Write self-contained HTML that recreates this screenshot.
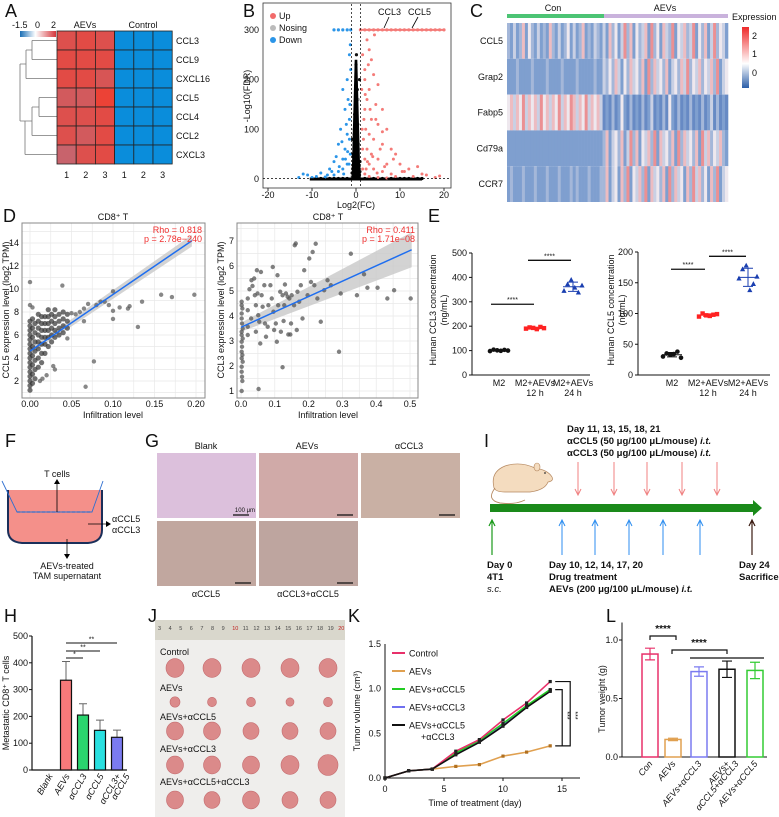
<!DOCTYPE html>
<html><head><meta charset="utf-8">
<style>
body{margin:0;background:#fff}
svg{display:block;font-family:"Liberation Sans",Arial,sans-serif;fill:#111}
.pl{font-size:18px}
.t{font-size:9px}
.s{font-size:8px}
.n{font-family:"Liberation Sans Narrow","Liberation Sans",sans-serif}
</style></head><body>
<svg id="fig" width="779" height="817" viewBox="0 0 779 817" xmlns="http://www.w3.org/2000/svg">
<rect x="0" y="0" width="779" height="817" fill="#fff"/>
<!-- Panel labels -->
<text class="pl" x="5" y="17">A</text>
<text class="pl" x="243" y="17">B</text>
<text class="pl" x="470" y="17">C</text>
<text class="pl" x="3" y="222">D</text>
<text class="pl" x="428" y="222">E</text>
<text class="pl" x="5" y="447">F</text>
<text class="pl" x="145" y="447">G</text>
<text class="pl" x="484" y="447">I</text>
<text class="pl" x="4" y="622">H</text>
<text class="pl" x="148" y="622">J</text>
<text class="pl" x="348" y="622">K</text>
<text class="pl" x="606" y="622">L</text>

<!-- A -->
<g id="pA">
<defs>
<linearGradient id="gA" x1="0" x2="1"><stop offset="0" stop-color="#1a6eb5"/><stop offset="0.43" stop-color="#ffffff"/><stop offset="1" stop-color="#d4363c"/></linearGradient>
<linearGradient id="gC" x1="0" y1="1" x2="0" y2="0"><stop offset="0" stop-color="#2b5ea8"/><stop offset="0.4" stop-color="#ffffff"/><stop offset="1" stop-color="#ee2a2a"/></linearGradient>
</defs>
<rect x="20" y="31" width="36" height="6" fill="url(#gA)"/>
<text class="t" x="12" y="28">-1.5</text>
<text class="t" x="35" y="28">0</text>
<text class="t" x="51" y="28">2</text>
<text class="t" x="85" y="28" text-anchor="middle">AEVs</text>
<text class="t" x="143" y="28" text-anchor="middle">Control</text>
<path d="M32,40.5H57M32,59.5H57M32,40.5V59.5M26,50H32M26,78.5H57M26,50V78.5M20,64H26M39,97.5H57M39,116.5H57M39,97.5V116.5M32,107H39M32,135.5H57M32,107V135.5M25,121H32M25,154.5H57M25,121V154.5M20,121H25M20,64V121" stroke="#777" fill="none" stroke-width="0.8"/>
</g>

<!-- B -->
<g id="pB">
<rect x="263" y="3" width="188" height="185" fill="none" stroke="#333" stroke-width="0.8"/>
<text class="t" x="250" y="96" transform="rotate(-90 250 96)" text-anchor="middle">-Log10(FDR)</text>
<text class="t" x="356" y="208" text-anchor="middle">Log2(FC)</text>
<circle cx="273" cy="16" r="3" fill="#f26b6b"/>
<text class="t" x="279" y="19">Up</text>
<circle cx="273" cy="28" r="3" fill="#bbb"/>
<text class="t" x="279" y="31">Nosing</text>
<circle cx="273" cy="40" r="3" fill="#2b95e8"/>
<text class="t" x="279" y="43">Down</text>
<text class="t" x="378" y="15">CCL3</text>
<text class="t" x="408" y="15">CCL5</text>
<path d="M389,17L384,28M418,17L412,28" stroke="#000" stroke-width="0.8"/>
</g>

<!-- C -->
<g id="pC">
<text class="t" x="553" y="11" text-anchor="middle">Con</text>
<text class="t" x="665" y="11" text-anchor="middle">AEVs</text>
<rect x="507" y="14" width="97" height="4" fill="#4cc474"/>
<rect x="604" y="14" width="124" height="4" fill="#c9b2dc"/>
<text class="t" x="732" y="20">Expression</text>
<rect x="742" y="27" width="7" height="61" fill="url(#gC)"/>
<text class="t" x="752" y="39">2</text>
<text class="t" x="752" y="57">1</text>
<text class="t" x="752" y="76">0</text>
</g>

<!-- D -->
<g id="pD">
<text class="t" x="113" y="220" text-anchor="middle">CD8⁺ T</text>
<text class="t" x="328" y="220" text-anchor="middle">CD8⁺ T</text>
<text class="t" x="9" y="310" transform="rotate(-90 9 310)" text-anchor="middle">CCL5 expression level (log2 TPM)</text>
<text class="t" x="224" y="310" transform="rotate(-90 224 310)" text-anchor="middle">CCL3 expression level (log2 TPM)</text>
<text class="t" x="113" y="418" text-anchor="middle">Infiltration level</text>
<text class="t" x="328" y="418" text-anchor="middle">Infiltration level</text>
</g>

<!-- E -->
<g id="pE">
<text class="t" x="436" y="310" transform="rotate(-90 436 310)" text-anchor="middle">Human CCL3 concentration</text>
<text class="t" x="447" y="310" transform="rotate(-90 447 310)" text-anchor="middle">(ng/mL)</text>
<text class="t" x="614" y="310" transform="rotate(-90 614 310)" text-anchor="middle">Human CCL5 concentration</text>
<text class="t" x="625" y="310" transform="rotate(-90 625 310)" text-anchor="middle">(ng/mL)</text>
</g>

<!-- F -->
<g id="pF">
<path d="M8,490 L8,530 Q8,542 22,543 L88,543 Q102,542 102,530 L102,490 Z" fill="#f4908a"/>
<path d="M8,490 L8,530 Q8,542 22,543 L88,543 Q102,542 102,530 L102,490" fill="none" stroke="#1a2f5a" stroke-width="2"/>
<path d="M2,481 L17,512 L92,512 L103,481" fill="none" stroke="#2f6fd0" stroke-width="0.9"/>
<line x1="17" y1="512" x2="92" y2="512" stroke="#2f6fd0" stroke-width="1.2" stroke-dasharray="3,2"/>
<text class="t n" x="57" y="477" text-anchor="middle">T cells</text>
<path d="M57,512 V481" stroke="#000" stroke-width="0.8"/>
<path d="M54,484 L57,479 L60,484 Z" fill="#000"/>
<path d="M88,524 H108" stroke="#000" stroke-width="0.8"/>
<path d="M106,521 L111,524 L106,527 Z" fill="#000"/>
<text class="t n" x="112" y="522">αCCL5</text>
<text class="t n" x="112" y="533">αCCL3</text>
<path d="M67,539 V557" stroke="#000" stroke-width="0.8"/>
<path d="M64,554 L67,559 L70,554 Z" fill="#000"/>
<text class="t n" x="67" y="569" text-anchor="middle">AEVs-treated</text>
<text class="t n" x="67" y="579" text-anchor="middle">TAM supernatant</text>
</g>

<!-- G -->
<g id="pG">
<text class="t n" x="206" y="449" text-anchor="middle">Blank</text>
<text class="t n" x="307" y="449" text-anchor="middle">AEVs</text>
<text class="t n" x="409" y="449" text-anchor="middle">αCCL3</text>
<rect x="157" y="453" width="99" height="65" fill="#dcc0dc"/>
<rect x="259" y="453" width="99" height="65" fill="#d0aaa8"/>
<rect x="361" y="453" width="99" height="65" fill="#c9b0a4"/>
<rect x="157" y="521" width="99" height="65" fill="#c1a79f"/>
<rect x="259" y="521" width="99" height="65" fill="#bea59f"/>
<text x="245" y="512" font-size="6" text-anchor="middle">100 μm</text>
<path d="M233,515H249M337,515H353M439,515H455M235,583H251M337,583H353" stroke="#111" stroke-width="1.2"/>
<text class="t n" x="206" y="597" text-anchor="middle">αCCL5</text>
<text class="t n" x="308" y="597" text-anchor="middle">αCCL3+αCCL5</text>
</g>

<!-- I -->
<g id="pI" font-family="Liberation Sans Narrow, Liberation Sans, sans-serif">
<text x="567" y="432" font-size="9.5" font-weight="bold">Day 11, 13, 15, 18, 21</text>
<text x="567" y="444" font-size="9.5" font-weight="bold">αCCL5 (50 μg/100 μL/mouse) <tspan font-style="italic">i.t.</tspan></text>
<text x="567" y="456" font-size="9.5" font-weight="bold">αCCL3 (50 μg/100 μL/mouse) <tspan font-style="italic">i.t.</tspan></text>
<g>
<path d="M494,488 Q490,472 505,466 Q520,461 535,468 Q548,470 552,477 Q554,481 548,482 Q545,490 530,492 L505,492 Q496,492 494,488 Z" fill="#f4dcbf" stroke="#b58860" stroke-width="0.7"/>
<path d="M495,488 Q486,500 500,503 Q515,505 525,500" fill="none" stroke="#b58860" stroke-width="0.9"/>
<ellipse cx="537" cy="467" rx="3" ry="4" fill="#f4dcbf" stroke="#b58860" stroke-width="0.6"/>
<circle cx="545" cy="473" r="0.9" fill="#333"/>
</g>
<path d="M490,504 H753 V500 L762,508 L753,516 V512 H490 Z" fill="#1a8a1a"/>
<text x="487" y="568" font-size="9.5" font-weight="bold">Day 0</text>
<text x="487" y="580" font-size="9.5" font-weight="bold">4T1</text>
<text x="487" y="592" font-size="9.5" font-style="italic">s.c.</text>
<text x="549" y="568" font-size="9.5" font-weight="bold">Day 10, 12, 14, 17, 20</text>
<text x="549" y="580" font-size="9.5" font-weight="bold">Drug treatment</text>
<text x="549" y="592" font-size="9.5" font-weight="bold">AEVs (200 μg/100 μL/mouse) <tspan font-style="italic">i.t.</tspan></text>
<text x="739" y="568" font-size="9.5" font-weight="bold">Day 24</text>
<text x="739" y="580" font-size="9.5" font-weight="bold">Sacrifice</text>
</g>

<!-- H -->
<g id="pH">
<text class="t" x="9" y="703" transform="rotate(-90 9 703)" text-anchor="middle">Metastatic CD8⁺ T cells</text>
</g>

<!-- J -->
<g id="pJ">
<rect x="155" y="620" width="190" height="197" fill="#efeeec"/>
<rect x="155" y="620" width="190" height="20" fill="#d9d7cc"/>
<text class="t n" x="160" y="655">Control</text>
<text class="t n" x="160" y="691">AEVs</text>
<text class="t n" x="160" y="720">AEVs+αCCL5</text>
<text class="t n" x="160" y="752">AEVs+αCCL3</text>
<text class="t n" x="160" y="785">AEVs+αCCL5+αCCL3</text>
</g>

<!-- K -->
<g id="pK">
<text class="t" x="360" y="711" transform="rotate(-90 360 711)" text-anchor="middle">Tumor volume (cm³)</text>
<text class="t n" x="475" y="806" text-anchor="middle">Time of treatment (day)</text>
</g>

<!-- L -->
<g id="pL">
<text class="t" x="605" y="699" transform="rotate(-90 605 699)" text-anchor="middle">Tumor weight (g)</text>
</g>
</svg>

<script>
// ---------- DATA ----------
const genesA = ['CCL3','CCL9','CXCL16','CCL5','CCL4','CCL2','CXCL3'];
const aevsA = [[1.7,1.8,1.7],[1.8,1.8,1.8],[1.8,1.8,1.6],[1.5,1.5,2.0],[1.7,1.7,1.8],[1.7,1.5,1.8],[1.3,1.7,1.8]];
const ctrlA = [[-1.2,-1.2,-1.2],[-1.2,-1.2,-1.2],[-1.2,-1.2,-1.2],[-1.2,-1.2,-1.2],[-1.2,-1.2,-1.2],[-1.2,-1.2,-1.2],[-1.2,-1.2,-1.2]];

const upFC = [1.5,2,2.5,3,3.5,2,4,5,3,2.5,4.5,6,2,3.5,5,7,2.2,3,4,6,8,9,2.5,3.5,5,7,10,12,15,11,2,3,4,6,8,9,13,16,18,1.5,2,3,5,7,1.5,1.8,2.8,6,4.2,1.3,8.5,10.5,14,19,5.5,4.5,3.2,2.3,1.7,6.5,2.6,3.8,4.8,1.4,2.1];
const upFDR = [250,220,280,260,240,200,210,190,180,160,150,140,140,120,110,100,100,90,80,70,60,50,60,50,40,30,30,20,10,15,40,30,20,15,10,5,5,8,3,20,10,5,3,2,60,120,230,95,290,180,40,15,25,6,60,120,140,20,80,25,35,45,12,100,170];
const downFC = [-1.5,-2,-3,-1.8,-2.5,-1.5,-3.5,-2,-4,-2.5,-1.3,-3,-5,-6,-8,-9,-12,-11,-13,-2,-3,-4,-5,-7,-1.5,-2.2,-1.2,-3.2,-4.5,-10,-6.5,-1.6,-2.8,-1.4,-3.8,-5.5,-1.3,-2.4,-1.9];
const downFDR = [250,200,180,160,140,120,100,90,70,60,50,40,35,20,12,5,10,8,3,30,20,15,8,4,80,110,220,75,45,3,8,30,10,150,25,15,270,40,55];
const nsFC = [-0.9,-0.6,-0.3,0,0.3,0.6,0.9,-0.8,-0.4,0.2,0.5,0.8,-0.7,0.1,0.7,-0.5,0.4,-0.2,0.9,-0.9,0.6,-0.6,0.3,-0.3,0.8,-0.8,0.0,-10,-8,-6,-4,-3,-2,2,3,4,6,8,10,12,14,-9,-7,-5,5,7,9,11,13,15];
const nsFDR = [5,10,20,30,40,60,15,80,100,120,160,200,50,250,25,90,110,140,35,12,70,45,180,130,8,22,230,1,1,1,1,1,1,1,1,1,1,1,1,1,1,1,1,1,1,1,1,1,1,1];
const capUpFC = [1,2,3,4,5,6,7,8,9,10,11,12,13,14,15,16,17,18,19,20];
const capDownFC = [-5,-4,-3,-2,-1.2];

const geneC = ['CCL5','Grap2','Fabp5','Cd79a','CCR7'];
const exprC = [
 '32423625324232632423524236232432'+'426352473625346273526437254634725362473542',
 '22232222322223222232222322222322'+'435364253645362736453624536473546354637245',
 '56465746564756465746576465746564'+'121312521312131241213152131213121312413121',
 '22222222222222222222222222222222'+'362453624736254637264536273645362746354632',
 '23222322232223222322232322232223'+'362452637254637264536273645263746352637245'];

const d1Cols = [0,0.003,0.006,0.01,0.014,0.018,0.022,0.026,0.03,0.035,0.04,0.045];
const d1Vals = [[1.2,1.6,2.0,2.4,2.8,3.2,3.6,4.0,4.4,4.8,5.2,5.6,6.0,6.4,6.8,7.2],[1.8,2.6,3.4,4.2,5.0,5.8,6.6,7.4],[2.2,3.0,3.8,4.6,5.4,6.2,7.0],[3.2,4.0,4.8,5.4,6.0,6.6,7.2,7.8],[3.6,4.4,5.2,5.8,6.4,7.0,7.6],[4.4,5.2,5.8,6.4,7.0,7.6],[5.0,5.8,6.4,7.0,7.6,8.2],[5.4,6.0,6.6,7.2,7.8],[5.8,6.4,7.0,7.6,8.2],[6.0,6.6,7.2,7.8],[6.2,6.8,7.4,8.0],[6.6,7.2,7.8]];
const d1OutX = [0,0,0.003,0.039,0.067,0.077,0.13,0.158,0.171,0.198,0.1,0.1,0.12,0.095,0.108,0.085,0.08,0.07,0.065,0.06,0.055,0.05,0.045,0.03,0.028,0.015,0.012,0.02,0.135,0.118,0.065,0.09,0.1];
const d1OutY = [10.6,8.6,8.4,10.3,1.5,3.7,6.7,9.5,9.3,9.5,7.4,8.1,8.5,8.6,8.4,8.9,8.6,8.7,8.3,8.0,7.8,7.9,5.7,3.0,3.3,2.2,2.0,2.5,8.9,8.3,7.2,8.9,9.8];
const d2X = [0.002,0.002,0.004,0.002,0.002,0.003,0.005,0.002,0.002,0.005,0.002,0.003,0.002,0.004,0.002,0.005,0.002,0.002,0.003,0.004,0.002,0.02,0.02,0.02,0.02,0.025,0.03,0.031,0.034,0.039,0.041,0.044,0.044,0.047,0.049,0.051,0.054,0.057,0.059,0.061,0.064,0.069,0.071,0.074,0.079,0.081,0.087,0.091,0.094,0.096,0.098,0.103,0.106,0.108,0.11,0.116,0.118,0.123,0.126,0.128,0.13,0.133,0.138,0.14,0.143,0.148,0.15,0.157,0.159,0.162,0.165,0.167,0.172,0.177,0.182,0.187,0.197,0.202,0.207,0.212,0.217,0.221,0.226,0.236,0.246,0.256,0.266,0.29,0.295,0.325,0.343,0.364,0.374,0.404,0.433,0.453,0.502,0.052,0.123,0.146];
const d2Y = [4.57,4.43,4.30,4.10,3.90,3.70,3.50,3.37,3.24,3.10,2.97,2.77,2.57,2.44,2.31,2.17,1.97,1.77,1.57,1.40,1.00,4.23,3.57,3.24,4.70,5.07,3.90,5.43,5.20,5.50,4.83,4.43,3.37,5.83,4.90,4.03,3.77,2.90,5.76,4.83,4.37,5.23,3.70,3.17,3.57,4.43,5.23,4.70,5.96,4.17,3.44,3.70,2.97,5.63,4.43,4.97,3.37,4.83,3.80,4.43,5.26,4.90,4.77,3.26,4.70,3.70,4.83,4.43,6.83,6.90,3.44,4.97,4.57,5.23,3.90,5.83,4.83,6.30,5.36,6.56,5.23,6.89,4.70,3.77,5.03,5.43,5.23,2.57,4.90,6.49,4.83,5.67,5.13,5.13,4.70,5.03,4.70,1.08,1.95,3.26];

const e1M2 = [98,104,101,99,103,100];
const e1H12 = [190,195,193,188,197,192];
const e1H24 = [345,372,390,358,338,367];
const e2M2 = [30,35,33,34,38,28];
const e2H12 = [95,100,97,96,98,99];
const e2H24 = [157,172,178,138,148,160];
const eCats = ['M2','M2+AEVs|12 h','M2+AEVs|24 h'];

const hCats = ['Blank','AEVs','αCCL3','αCCL5','αCCL3+|αCCL5'];
const hVals = [0,335,205,148,122];
const hErr = [0,70,42,38,27];

const kDays = [0,2,4,6,8,10,12,14];
const kControl = [0,0.08,0.1,0.3,0.43,0.65,0.84,1.08];
const kAEVs = [0,0.08,0.1,0.13,0.15,0.245,0.29,0.36];
const kAccl5 = [0,0.08,0.1,0.28,0.42,0.61,0.81,0.99];
const kAccl3 = [0,0.08,0.1,0.27,0.41,0.6,0.8,0.98];
const kCombo = [0,0.08,0.1,0.26,0.4,0.58,0.79,0.97];

const lCats = ['Con','AEVs','AEVs+αCCL3','AEVs+|αCCL5+αCCL3','AEVs+αCCL5'];
const lVals = [0.88,0.15,0.73,0.75,0.74];
const lErr = [0.05,0.01,0.04,0.07,0.07];

const jRowSizes = [[9,9,9,9,9],[5,4.5,4.5,4,4.5],[8.5,8.5,8,8,8],[8.5,8.5,8.5,9,10],[8.5,8,8.5,8,8]];

// ---------- HELPERS ----------
const NS = 'http://www.w3.org/2000/svg';
function mk(tag, attrs, parent){ const e=document.createElementNS(NS,tag); for(const k in attrs) e.setAttribute(k,attrs[k]); parent.appendChild(e); return e; }
function hex(c){return [parseInt(c.slice(1,3),16),parseInt(c.slice(3,5),16),parseInt(c.slice(5,7),16)];}
function mix(a,b,t){t=Math.max(0,Math.min(1,t));const A=hex(a),B=hex(b);return 'rgb('+A.map((v,i)=>Math.round(v+(B[i]-v)*t)).join(',')+')';}
const gA=document.getElementById('pA'), gB=document.getElementById('pB'), gC=document.getElementById('pC'), gD=document.getElementById('pD'), gE=document.getElementById('pE'), gH=document.getElementById('pH'), gI=document.getElementById('pI'), gJ=document.getElementById('pJ'), gK=document.getElementById('pK'), gL=document.getElementById('pL');

// ---------- A ----------
function colA(v){ return v<0 ? '#0a8ddb' : mix('#c8636c','#ec4236',(v-1.3)/0.7); }
for(let i=0;i<genesA.length;i++){
  const row=aevsA[i].concat(ctrlA[i]);
  for(let j=0;j<6;j++){
    const c=mk('rect',{x:57+j*19.2,y:31+i*19,width:19.2,height:19,fill:colA(row[j]),stroke:'#222','stroke-width':0.8},gA);
    
    
  }
  const t=mk('text',{x:176,y:31+i*19+13,class:'t'},gA); t.textContent=genesA[i];
  
  
}
for(let j=0;j<6;j++){
  const t=mk('text',{x:57+j*19.2+9.6,y:178,class:'t','text-anchor':'middle'},gA); t.textContent=String(j%3+1);
  
  
}

// ---------- B ----------
const xB=v=>356+v*4.4, yB=v=>179-v*0.497;
[-20,-10,0,10,20].forEach(v=>{const t=mk('text',{x:xB(v),y:198,class:'t','text-anchor':'middle'},gB);t.textContent=String(v);
  
  
  const l=mk('line',{x1:xB(v),x2:xB(v),y1:188,y2:191,stroke:'#333'},gB);
  
  });
[0,100,200,300].forEach(v=>{const t=mk('text',{x:259,y:yB(v)+3,class:'t','text-anchor':'end'},gB);t.textContent=String(v);
  
  });
for(let i=0;i<nsFC.length;i++){const c=mk('circle',{cx:xB(nsFC[i]),cy:yB(nsFDR[i]),r:1.6,fill:nsFDR[i]<2?'#000':(i%5==0?'#aaa':'#111')},gB);
  
  }
const base=mk('rect',{x:xB(-10.5),y:yB(3),width:xB(15)-xB(-10.5),height:3,fill:'#000'},gB);


const spike=mk('path',{d:'M'+xB(-1)+','+yB(0)+' L'+xB(-0.3)+','+yB(240)+' L'+xB(0.3)+','+yB(240)+' L'+xB(1)+','+yB(0)+' Z',fill:'#000'},gB);


for(let i=0;i<upFC.length;i++){const c=mk('circle',{cx:xB(upFC[i]),cy:yB(upFDR[i]),r:1.5,fill:'#f47b78'},gB);
  
  }
for(let i=0;i<downFC.length;i++){const c=mk('circle',{cx:xB(downFC[i]),cy:yB(downFDR[i]),r:1.5,fill:'#2b95e8'},gB);
  
  }
for(let i=0;i<capUpFC.length;i++){const c=mk('circle',{cx:xB(capUpFC[i]),cy:yB(300),r:1.6,fill:'#f47b78'},gB);
  
  }
for(let i=0;i<capDownFC.length;i++){const c=mk('circle',{cx:xB(capDownFC[i]),cy:yB(300),r:1.6,fill:'#2b95e8'},gB);
  
  }
const capL=mk('line',{x1:xB(1),x2:xB(20),y1:yB(300),y2:yB(300),stroke:'#f47b78','stroke-width':2},gB);


const dl=mk('path',{d:'M'+xB(-1)+',4V188M'+xB(1)+',4V188M263,'+yB(1.3)+'H451',stroke:'#000','stroke-dasharray':'2,2','stroke-width':0.7,fill:'none'},gB);



// ---------- C ----------
function colC(d){const v=+d; if(v<=2) return mix('#4f74b8','#7f9fcf',v/2); if(v<=5) return mix('#7f9fcf','#eee8ee',(v-2)/3); return mix('#eee8ee','#e83838',(v-5)/4);}
for(let r=0;r<geneC.length;r++){
  const s=exprC[r], w=221/s.length, y0=23+r*35.8;
  for(let k=0;k<s.length;k++){
    const c=mk('rect',{x:507+k*w,y:y0,width:w+0.3,height:35.8,fill:colC(s[k])},gC);
    
    
  }
  const t=mk('text',{x:503,y:y0+21,class:'t','text-anchor':'end'},gC); t.textContent=geneC[r];
  
  
}

// ---------- D ----------
function panelD(name,fx,fy,x0,x1,y0,y1,xt,xtl,yt,gridx,gridy,line,rho,p){
  const fr=mk('rect',{x:x0,y:y0,width:x1-x0,height:y1-y0,fill:'#fff'},gD);
  
  
  gridx.forEach(v=>{const l=mk('line',{x1:fx(v),x2:fx(v),y1:y0,y2:y1,stroke:'#e8e8e8','stroke-width':0.7},gD);
    
    });
  gridy.forEach(v=>{const l=mk('line',{x1:x0,x2:x1,y1:fy(v),y2:fy(v),stroke:'#e8e8e8','stroke-width':0.7},gD);
    
    });
  xt.forEach((v,i)=>{const t=mk('text',{x:fx(v),y:y1+9,class:'t','text-anchor':'middle'},gD);t.textContent=xtl[i];
    
    });
  yt.forEach(v=>{const t=mk('text',{x:x0-3,y:fy(v)+3,class:'t','text-anchor':'end'},gD);t.textContent=String(v);
    
    });
  const band=mk('path',{d:'M'+fx(line[0])+','+fy(line[1]+line[4])+' L'+fx(line[2])+','+fy(line[3]+line[5])+' L'+fx(line[2])+','+fy(line[3]-line[5])+' L'+fx(line[0])+','+fy(line[1]-line[4])+' Z',fill:'#c8c8c8',opacity:0.8},gD);
  
  
  return function(){
    const l=mk('line',{x1:fx(line[0]),y1:fy(line[1]),x2:fx(line[2]),y2:fy(line[3]),stroke:'#1e6ef0','stroke-width':1.5},gD);
    
    
    const f=mk('rect',{x:x0,y:y0,width:x1-x0,height:y1-y0,fill:'none',stroke:'#888','stroke-width':1},gD);
    
    
    const r1=mk('text',{x:x1-3,y:y0+10,class:'t','text-anchor':'end',fill:'#f03030'},gD);r1.textContent=rho;
    
    
    const r2=mk('text',{x:x1-3,y:y0+19,class:'t','text-anchor':'end',fill:'#f03030'},gD);r2.textContent=p;
    
    
  };
}
const xD1=v=>30+v*830, yD1=v=>243+(14-v)*11.5;
const fin1=panelD('d1',xD1,yD1,22,205,223,398,[0,0.05,0.1,0.15,0.2],['0.00','0.05','0.10','0.15','0.20'],[2,4,6,8,10,12,14],[0,0.025,0.05,0.075,0.1,0.125,0.15,0.175,0.2],[1,2,3,4,5,6,7,8,9,10,11,12,13,14,15],[0,4.6,0.195,14.2,0.25,0.5],'Rho = 0.818','p = 2.78e−240');
for(let c=0;c<d1Cols.length;c++){ for(let k=0;k<d1Vals[c].length;k++){
  const pt=mk('circle',{cx:xD1(d1Cols[c]),cy:yD1(d1Vals[c][k]),r:2.6,fill:'#333','fill-opacity':0.7},gD);
  
  }}
for(let i=0;i<d1OutX.length;i++){
  const pt=mk('circle',{cx:xD1(d1OutX[i]),cy:yD1(d1OutY[i]),r:2.2,fill:'#555','fill-opacity':0.7},gD);
  
  }
fin1();
const xD2=v=>241+v*338, yD2=v=>241+(7-v)*25;
const fin2=panelD('d2',xD2,yD2,237,418,223,398,[0,0.1,0.2,0.3,0.4,0.5],['0.0','0.1','0.2','0.3','0.4','0.5'],[1,2,3,4,5,6,7],[0,0.05,0.1,0.15,0.2,0.25,0.3,0.35,0.4,0.45,0.5],[1,1.5,2,2.5,3,3.5,4,4.5,5,5.5,6,6.5,7,7.5],[0,3.55,0.505,6.65,0.18,0.7],'Rho = 0.411','p = 1.71e−08');
for(let i=0;i<d2X.length;i++){
  const pt=mk('circle',{cx:xD2(d2X[i]),cy:yD2(d2Y[i]),r:2.2,fill:'#555','fill-opacity':0.75},gD);
  
  }
fin2();

// ---------- E ----------
function panelE(name,ax,axEnd,fy,ticks,xs,groups,sig){
  const a=mk('path',{d:'M'+ax+','+fy(ticks[ticks.length-1])+'V375H'+axEnd,stroke:'#111',fill:'none','stroke-width':1},gE);
  
  
  ticks.forEach(v=>{const t=mk('text',{x:ax-5,y:fy(v)+3,class:'t','text-anchor':'end'},gE);t.textContent=String(v);
    
    
    const l=mk('line',{x1:ax-3,x2:ax,y1:fy(v),y2:fy(v),stroke:'#111'},gE);
    
    });
  const cols=['#111','#f22','#1a3fb0'];
  groups.forEach((g,gi)=>{
    const mean=g.reduce((a,b)=>a+b,0)/g.length;
    const sd=Math.sqrt(g.reduce((a,b)=>a+(b-mean)*(b-mean),0)/(g.length-1));
    const ml=mk('path',{d:'M'+(xs[gi]-10)+','+fy(mean)+'H'+(xs[gi]+10)+'M'+(xs[gi]-5)+','+fy(mean+sd)+'H'+(xs[gi]+5)+'M'+(xs[gi]-5)+','+fy(mean-sd)+'H'+(xs[gi]+5)+'M'+xs[gi]+','+fy(mean+sd)+'V'+fy(mean-sd),stroke:cols[gi],'stroke-width':1,fill:'none'},gE);
    
    
    g.forEach((v,k)=>{
      const px=xs[gi]-9+k*3.6, py=fy(v); let m;
      if(gi==0) m=mk('circle',{cx:px,cy:py,r:2.3,fill:cols[0]},gE);
      else if(gi==1) m=mk('rect',{x:px-2.2,y:py-2.2,width:4.4,height:4.4,fill:cols[1]},gE);
      else m=mk('path',{d:'M'+px+','+(py-2.8)+'L'+(px+2.6)+','+(py+2)+'L'+(px-2.6)+','+(py+2)+'Z',fill:cols[2]},gE);
      
      
    });
    const parts=eCats[gi].split('|');
    parts.forEach((s,pi)=>{const t=mk('text',{x:xs[gi],y:386+pi*10,class:'t','text-anchor':'middle'},gE);t.textContent=s;
      
      });
  });
  sig.forEach(s=>{const l=mk('line',{x1:s[0],x2:s[1],y1:fy(s[2]),y2:fy(s[2]),stroke:'#111','stroke-width':1.3},gE);
    
    
    const t=mk('text',{x:(s[0]+s[1])/2,y:fy(s[2])-2,'font-size':7,'text-anchor':'middle'},gE);t.textContent='****';
    
    });
}
const yE1=v=>375-v*0.244, yE2=v=>375-v*0.615;
panelE('e1',472,590,yE1,[0,100,200,300,400,500],[499,535,573],[e1M2,e1H12,e1H24],[[491,534,290],[528,571,470]]);
panelE('e2',638,770,yE2,[0,50,100,150,200],[672,708,748],[e2M2,e2H12,e2H24],[[671,705,172],[709,746,193]]);

// ---------- I arrows ----------
const iRed=[578,614,647,682,717], iBlue=[562,595,629,663,700];
iRed.forEach(x=>{const a=mk('path',{d:'M'+x+',462V494M'+(x-3)+',489L'+x+',495L'+(x+3)+',489',stroke:'#f08080',fill:'none','stroke-width':1},gI);
  
  });
iBlue.forEach(x=>{const a=mk('path',{d:'M'+x+',555V521M'+(x-3)+',526L'+x+',520L'+(x+3)+',526',stroke:'#2d8ef0',fill:'none','stroke-width':1},gI);
  
  });
[[492,'#1a9a1a','i-day0-arrow'],[752,'#3a1a10','i-day24-arrow']].forEach(d=>{const a=mk('path',{d:'M'+d[0]+',555V521M'+(d[0]-3)+',526L'+d[0]+',520L'+(d[0]+3)+',526',stroke:d[1],fill:'none','stroke-width':1.2},gI);
  
  });

// ---------- H ----------
const yH=v=>770-v*0.268, hX=[49,66,83,100,117];
const hCol=['#fff','#f7797a','#2ad46e','#2ae0e0','#7b7bf0'];
const ha=mk('path',{d:'M32,636V770H127',stroke:'#111',fill:'none','stroke-width':1.2},gH);


[0,100,200,300,400,500].forEach(v=>{const t=mk('text',{x:28,y:yH(v)+3,class:'t','text-anchor':'end'},gH);t.textContent=String(v);
  
  
  const l=mk('line',{x1:29,x2:32,y1:yH(v),y2:yH(v),stroke:'#111'},gH);
  
  });
for(let i=0;i<hVals.length;i++){
  if(hVals[i]>0){
    const e=mk('path',{d:'M'+hX[i]+','+yH(hVals[i])+'V'+yH(hVals[i]+hErr[i])+'M'+(hX[i]-4)+','+yH(hVals[i]+hErr[i])+'H'+(hX[i]+4),stroke:'#666',fill:'none'},gH);
    
    
    const b=mk('rect',{x:hX[i]-5.5,y:yH(hVals[i]),width:11,height:770-yH(hVals[i]),fill:hCol[i],stroke:'#111','stroke-width':1.2},gH);
    
    
  }
  const parts=hCats[i].split('|');
  parts.forEach((s,pi)=>{const t=mk('text',{x:hX[i]+4+pi*9,y:776,class:'t','font-style':'italic','text-anchor':'end',transform:'rotate(-60 '+(hX[i]+4+pi*9)+' 776)'},gH);t.textContent=s;
    
    });
}
[[66,83,658,'*'],[66,100,651,'**'],[66,117,643,'**']].forEach(s=>{const l=mk('line',{x1:s[0],x2:s[1],y1:s[2],y2:s[2],stroke:'#111'},gH);
  
  
  const t=mk('text',{x:(s[0]+s[1])/2,y:s[2]-1.5,'font-size':7,'text-anchor':'middle'},gH);t.textContent=s[3];
  
  });

// ---------- J ----------
for(let n=3;n<=20;n++){const t=mk('text',{x:158+(n-3)*10.6,y:630,'font-size':5.5,fill:n==10||n==20?'#c02020':'#444'},gJ);t.textContent=String(n);
  
  }
const jRowY=[668,702,731,765,800], jColX=[175,212,251,290,328];
for(let r=0;r<5;r++){for(let c=0;c<5;c++){const s=jRowSizes[r][c];
  const e=mk('ellipse',{cx:jColX[c],cy:jRowY[r],rx:s,ry:s*1.05,fill:'#db8a8a',stroke:'#c46b6e','stroke-width':0.6},gJ);
  
  }}

// ---------- K ----------
const xK=d=>385+d*11.8, yK=v=>778-v*89.3;
const ka=mk('path',{d:'M385,'+yK(1.5)+'V778H580',stroke:'#111',fill:'none','stroke-width':1},gK);


[0,0.5,1.0,1.5].forEach(v=>{const t=mk('text',{x:381,y:yK(v)+3,class:'t n','text-anchor':'end'},gK);t.textContent=v.toFixed(1);
  
  });
[0,5,10,15].forEach(v=>{const t=mk('text',{x:xK(v),y:792,class:'t n','text-anchor':'middle'},gK);t.textContent=String(v);
  
  
  const l=mk('line',{x1:xK(v),x2:xK(v),y1:778,y2:781,stroke:'#111'},gK);
  
  });
const kSeries=[[kAEVs,'#e0a050','AEVs'],[kAccl3,'#7070f0','AEVs+αCCL3'],[kAccl5,'#22cc22','AEVs+αCCL5'],[kControl,'#e8306a','Control'],[kCombo,'#111','AEVs+αCCL5+αCCL3']];
kSeries.forEach(s=>{
  const d=s[0].map((v,i)=>(i?'L':'M')+xK(kDays[i])+','+yK(v)).join('');
  const p=mk('path',{d:d,stroke:s[1],fill:'none','stroke-width':1.6},gK);
  
  
  s[0].forEach((v,i)=>{const m=mk('rect',{x:xK(kDays[i])-1.6,y:yK(v)-1.6,width:3.2,height:3.2,fill:s[1]==='#e0a050'?'#b07020':'#222'},gK);
    
    });
});
const legK=[['Control','#e8306a',653],['AEVs','#e0a050',671],['AEVs+αCCL5','#22cc22',689],['AEVs+αCCL3','#7070f0',707],['AEVs+αCCL5','#111',725]];
legK.forEach(l=>{const ln=mk('line',{x1:392,x2:405,y1:l[2],y2:l[2],stroke:l[1],'stroke-width':2},gK);
  
  
  const t=mk('text',{x:409,y:l[2]+3.5,class:'t n'},gK);t.textContent=l[0];
  
  });
const kl6=mk('text',{x:421,y:740,class:'t n'},gK);kl6.textContent='+αCCL3';


const kb=mk('path',{d:'M'+(xK(14)+5)+','+yK(0.99)+'H'+(xK(14)+12)+'V'+yK(0.36)+'H'+(xK(14)+5)+'M'+(xK(14)+5)+','+yK(1.08)+'H'+(xK(14)+20)+'V'+yK(0.36)+'H'+(xK(14)+12),stroke:'#111',fill:'none','stroke-width':1.2},gK);


[[xK(14)+15,'k-sig-1'],[xK(14)+23,'k-sig-2']].forEach(s=>{const t=mk('text',{x:s[0],y:yK(0.7),'font-size':7,transform:'rotate(90 '+s[0]+' '+yK(0.7)+')','text-anchor':'middle'},gK);t.textContent='***';
  
  });

// ---------- L ----------
const yL=v=>757-v*117, lX=[650,673,699,727,755], lCol=['#e8306a','#e0a050','#7b7bf0','#111','#33cc33'];
const la=mk('path',{d:'M622,'+yL(1.15)+'V757H767',stroke:'#111',fill:'none','stroke-width':1},gL);


[0,0.5,1.0].forEach(v=>{const t=mk('text',{x:618,y:yL(v)+3,class:'t n','text-anchor':'end'},gL);t.textContent=v.toFixed(1);
  
  
  const l=mk('line',{x1:619,x2:622,y1:yL(v),y2:yL(v),stroke:'#111'},gL);
  
  });
for(let i=0;i<lVals.length;i++){
  const b=mk('rect',{x:lX[i]-8,y:yL(lVals[i]),width:16,height:757-yL(lVals[i]),fill:'none',stroke:lCol[i],'stroke-width':1.5},gL);
  
  
  const e=mk('path',{d:'M'+lX[i]+','+yL(lVals[i]-lErr[i])+'V'+yL(lVals[i]+lErr[i])+'M'+(lX[i]-5)+','+yL(lVals[i]+lErr[i])+'H'+(lX[i]+5)+'M'+(lX[i]-5)+','+yL(lVals[i]-lErr[i])+'H'+(lX[i]+5),stroke:lCol[i],fill:'none','stroke-width':1.2},gL);
  
  
  const parts=lCats[i].split('|');
  parts.forEach((s,pi)=>{const t=mk('text',{x:lX[i]+3+pi*9,y:764,class:'t n','font-style':'italic','text-anchor':'end',transform:'rotate(-50 '+(lX[i]+3+pi*9)+' 764)'},gL);t.textContent=s;
    
    });
}
const ls=mk('path',{d:'M650,640V636H676V640M672,654V650H727V654M690,658H764',stroke:'#111',fill:'none','stroke-width':1.2},gL);


[[663,632],[699,646]].forEach(s=>{const t=mk('text',{x:s[0],y:s[1],'font-size':10,'font-weight':'bold','text-anchor':'middle'},gL);t.textContent='****';
  
  });
</script>
</body></html>
